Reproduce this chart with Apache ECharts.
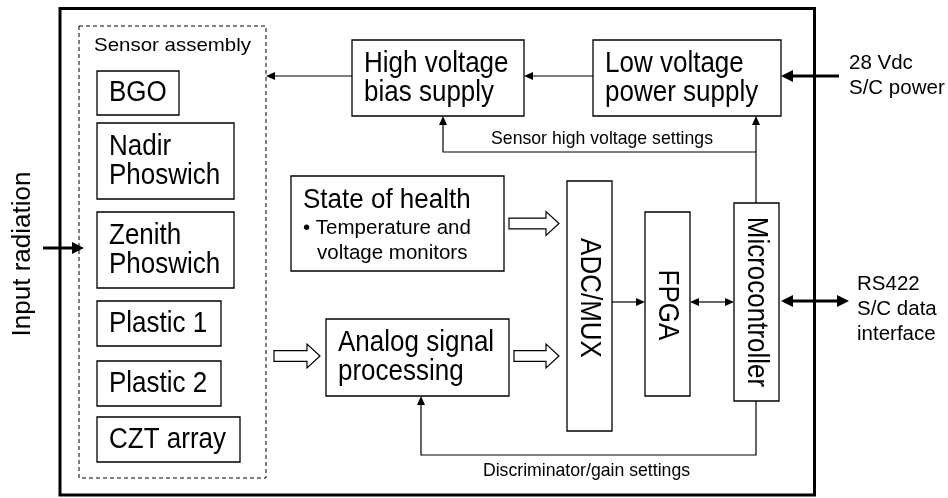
<!DOCTYPE html>
<html><head><meta charset="utf-8">
<script src="https://cdn.jsdelivr.net/npm/echarts@6/dist/echarts.min.js"></script>
<style>html,body{margin:0;padding:0;background:#fff}#c{width:948px;height:498px}</style>
</head><body><div id="c"></div>
<script>
// ---- Diagram content (diagram units: x 0..948, y 0..498, y downwards) ----
// Horizontal-text blocks
const boxNames   = ['BGO', 'Nadir\nPhoswich', 'Zenith\nPhoswich', 'Plastic 1', 'Plastic 2', 'CZT array',
                    'High voltage\nbias supply', 'Low voltage\npower supply', 'Analog signal\nprocessing'];
const boxLeft    = [97, 97, 97, 97, 97, 97, 352, 593, 326];
const boxTop     = [71, 123, 212, 301, 361, 417, 40, 40, 319];
const boxRight   = [179, 234, 234, 221, 221, 240, 524, 781, 509];
const boxBottom  = [115, 199, 288, 346, 406, 462, 116, 116, 396];

// Vertical-text blocks
const vboxNames  = ['ADC/MUX', 'FPGA', 'Microcontroller'];
const vboxLeft   = [567, 645, 734];
const vboxTop    = [181, 212, 203];
const vboxRight  = [612, 690, 779];
const vboxBottom = [431, 396, 401];
const vboxTextCentre = [298, 305, 302];

// State of health block
const sohTitle   = 'State of health';
const sohBullets = ['• Temperature and', 'voltage monitors'];
const sohBounds  = [291, 176, 504, 271];

// Enclosures
const instrumentFrame = [60, 8.5, 814.5, 495];
const sensorGroup     = [79, 26, 266, 478];
const sensorGroupName = 'Sensor assembly';

// Signal wires (thin) and their arrowheads
const wirePaths = [
  [[593, 76], [524, 76]],
  [[352, 76], [266, 76]],
  [[756, 203], [756, 152], [443, 152], [443, 116]],
  [[756, 152], [756, 116]],
  [[612, 302], [645, 302]],
  [[690, 302], [734, 302]],
  [[756, 401], [756, 455], [421, 455], [421, 396]]
];
const wireHeads = ['end', 'end', 'end', 'end', 'end', 'both', 'end'];

// External interfaces (thick)
const busPaths = [
  [[839, 76], [781, 76]],
  [[781, 301], [849, 301]],
  [[43, 248], [84, 248]]
];
const busHeads = ['end', 'both', 'end'];

// Hollow data-flow arrows [x start, x end, y centre]
const flowStartX = [274, 514, 509];
const flowEndX   = [320, 559, 559];
const flowY      = [356, 356, 223.5];

// Free labels
const labelTexts = ['Sensor high voltage settings', 'Discriminator/gain settings',
                    '28 Vdc\nS/C power', 'RS422\nS/C data\ninterface'];
const labelX     = [602, 586.5, 849, 857];
const labelY     = [139, 471, 76, 309];
const labelAlign = ['center', 'center', 'left', 'left'];
const sideTitle  = 'Input radiation';
const sideTitlePos = [23, 254];

// ---- Rendering ----
const FONT = "'Liberation Sans', Arial, sans-serif";
const INK = '#000';
const chart = echarts.init(document.getElementById('c'), null, {renderer: 'canvas'});

function head(tip, from, len, half) {
  const dx = tip[0] - from[0], dy = tip[1] - from[1];
  const d = Math.hypot(dx, dy) || 1, ux = dx / d, uy = dy / d;
  const bx = tip[0] - ux * len, by = tip[1] - uy * len;
  return {
    base: [bx, by],
    el: {type: 'polygon', shape: {points: [tip, [bx - uy * half, by + ux * half], [bx + uy * half, by - ux * half]]},
         style: {fill: INK, stroke: null}}
  };
}

function pathRenderer(paths, heads, lw, len, half) {
  return function (params, api) {
    const i = api.value(0);
    const pts = paths[i].map(p => api.coord(p));
    const children = [];
    const mode = heads[i];
    if (mode === 'end' || mode === 'both') {
      const h = head(pts[pts.length - 1], pts[pts.length - 2], len, half);
      pts[pts.length - 1] = h.base; children.push(h.el);
    }
    if (mode === 'both') {
      const h = head(pts[0], pts[1], len, half);
      pts[0] = h.base; children.push(h.el);
    }
    children.unshift({type: 'polyline', shape: {points: pts}, style: {stroke: INK, lineWidth: lw, fill: null}});
    return {type: 'group', children: children};
  };
}

const series = [];

// outer instrument frame
series.push({
  type: 'custom', data: [[0]], silent: true,
  renderItem: (p, api) => {
    const a = api.coord([instrumentFrame[0], instrumentFrame[1]]);
    const b = api.coord([instrumentFrame[2], instrumentFrame[3]]);
    return {type: 'rect', shape: {x: a[0], y: a[1], width: b[0] - a[0], height: b[1] - a[1]},
            style: {fill: null, stroke: INK, lineWidth: 3}};
  }
});

// dashed sensor assembly group
series.push({
  type: 'custom', data: [[0]], silent: true,
  renderItem: (p, api) => {
    const a = api.coord([sensorGroup[0], sensorGroup[1]]);
    const b = api.coord([sensorGroup[2], sensorGroup[3]]);
    return {type: 'group', children: [
      {type: 'rect', shape: {x: a[0], y: a[1], width: b[0] - a[0], height: b[1] - a[1]},
       style: {fill: null, stroke: INK, lineWidth: 1, lineDash: [4, 3]}},
      {type: 'text', x: (a[0] + b[0]) / 2, y: api.coord([0, 45.5])[1], scaleX: 1.1,
       style: {text: sensorGroupName, fontFamily: FONT, fontSize: 18.6, fill: INK, align: 'center', verticalAlign: 'middle'}}
    ]};
  }
});

// wires
series.push({
  type: 'custom', silent: true, data: wirePaths.map((_, i) => [i]),
  renderItem: pathRenderer(wirePaths, wireHeads, 1.2, 9, 4)
});
// buses
series.push({
  type: 'custom', silent: true, data: busPaths.map((_, i) => [i]),
  renderItem: pathRenderer(busPaths, busHeads, 3, 12, 6)
});

// text boxes
series.push({
  type: 'custom', silent: true,
  data: boxNames.map((n, i) => [boxLeft[i], boxTop[i], boxRight[i], boxBottom[i]]),
  encode: {x: [0, 2], y: [1, 3]},
  renderItem: (params, api) => {
    const a = api.coord([api.value(0), api.value(1)]);
    const b = api.coord([api.value(2), api.value(3)]);
    return {type: 'group', children: [
      {type: 'rect', shape: {x: a[0], y: a[1], width: b[0] - a[0], height: b[1] - a[1]},
       style: {fill: '#fff', stroke: INK, lineWidth: 1.3}},
      {type: 'text', x: a[0] + 12, y: (a[1] + b[1]) / 2, scaleY: 1.15,
       style: {text: boxNames[params.dataIndex], fontFamily: FONT, fontSize: 26, lineHeight: 25,
               fill: INK, align: 'left', verticalAlign: 'middle'}}
    ]};
  }
});

// vertical boxes
series.push({
  type: 'custom', silent: true,
  data: vboxNames.map((n, i) => [vboxLeft[i], vboxTop[i], vboxRight[i], vboxBottom[i]]),
  encode: {x: [0, 2], y: [1, 3]},
  renderItem: (params, api) => {
    const a = api.coord([api.value(0), api.value(1)]);
    const b = api.coord([api.value(2), api.value(3)]);
    const cy = api.coord([0, vboxTextCentre[params.dataIndex]])[1];
    return {type: 'group', children: [
      {type: 'rect', shape: {x: a[0], y: a[1], width: b[0] - a[0], height: b[1] - a[1]},
       style: {fill: '#fff', stroke: INK, lineWidth: 1.3}},
      {type: 'text', x: (a[0] + b[0]) / 2, y: cy, rotation: -Math.PI / 2, scaleY: 1.15,
       style: {text: vboxNames[params.dataIndex], fontFamily: FONT, fontSize: 26,
               fill: INK, align: 'center', verticalAlign: 'middle'}}
    ]};
  }
});

// state of health block
series.push({
  type: 'custom', silent: true, data: [[0]],
  renderItem: (params, api) => {
    const a = api.coord([sohBounds[0], sohBounds[1]]);
    const b = api.coord([sohBounds[2], sohBounds[3]]);
    return {type: 'group', children: [
      {type: 'rect', shape: {x: a[0], y: a[1], width: b[0] - a[0], height: b[1] - a[1]},
       style: {fill: '#fff', stroke: INK, lineWidth: 1.3}},
      {type: 'text', x: a[0] + 12, y: a[1] + 24, scaleY: 1.05,
       style: {text: sohTitle, fontFamily: FONT, fontSize: 26, fill: INK, align: 'left', verticalAlign: 'middle'}},
      {type: 'text', x: a[0] + 12, y: a[1] + 52,
       style: {text: sohBullets[0], fontFamily: FONT, fontSize: 20.5, fill: INK, align: 'left', verticalAlign: 'middle'}},
      {type: 'text', x: a[0] + 26, y: a[1] + 77,
       style: {text: sohBullets[1], fontFamily: FONT, fontSize: 20.5, fill: INK, align: 'left', verticalAlign: 'middle'}}
    ]};
  }
});

// hollow flow arrows
series.push({
  type: 'custom', silent: true, data: flowY.map((y, i) => [flowStartX[i], flowEndX[i], y]),
  renderItem: (params, api) => {
    const s = api.coord([api.value(0), api.value(2)]);
    const e = api.coord([api.value(1), api.value(2)]);
    const cy = s[1], hx = e[0] - 13, hs = 5.3, hh = 12;
    return {type: 'polygon', shape: {points: [
      [s[0], cy - hs], [hx, cy - hs], [hx, cy - hh], [e[0], cy], [hx, cy + hh], [hx, cy + hs], [s[0], cy + hs]]},
      style: {fill: '#fff', stroke: INK, lineWidth: 1.2}};
  }
});

// free labels
series.push({
  type: 'custom', silent: true, data: labelTexts.map((t, i) => [labelX[i], labelY[i]]),
  renderItem: (params, api) => {
    const i = params.dataIndex;
    const p = api.coord([api.value(0), api.value(1)]);
    const big = i >= 2;
    return {type: 'text', x: p[0], y: p[1], scaleX: big ? 1 : 0.955,
      style: {text: labelTexts[i], fontFamily: FONT, fontSize: big ? 20.5 : 18.5, lineHeight: 25,
              fill: INK, align: labelAlign[i], verticalAlign: 'middle'}};
  }
});

// side title
series.push({
  type: 'custom', silent: true, data: [sideTitlePos],
  renderItem: (params, api) => {
    const p = api.coord([api.value(0), api.value(1)]);
    return {type: 'text', x: p[0], y: p[1], rotation: Math.PI / 2,
      style: {text: sideTitle, fontFamily: FONT, fontSize: 26, fill: INK, align: 'center', verticalAlign: 'middle'}};
  }
});

chart.setOption({
  animation: false,
  backgroundColor: '#fff',
  grid: {left: 0, right: 0, top: 0, bottom: 0},
  xAxis: {type: 'value', min: 0, max: 948, show: false},
  yAxis: {type: 'value', min: 0, max: 498, inverse: true, show: false},
  series: series
});
</script>
</body></html>
